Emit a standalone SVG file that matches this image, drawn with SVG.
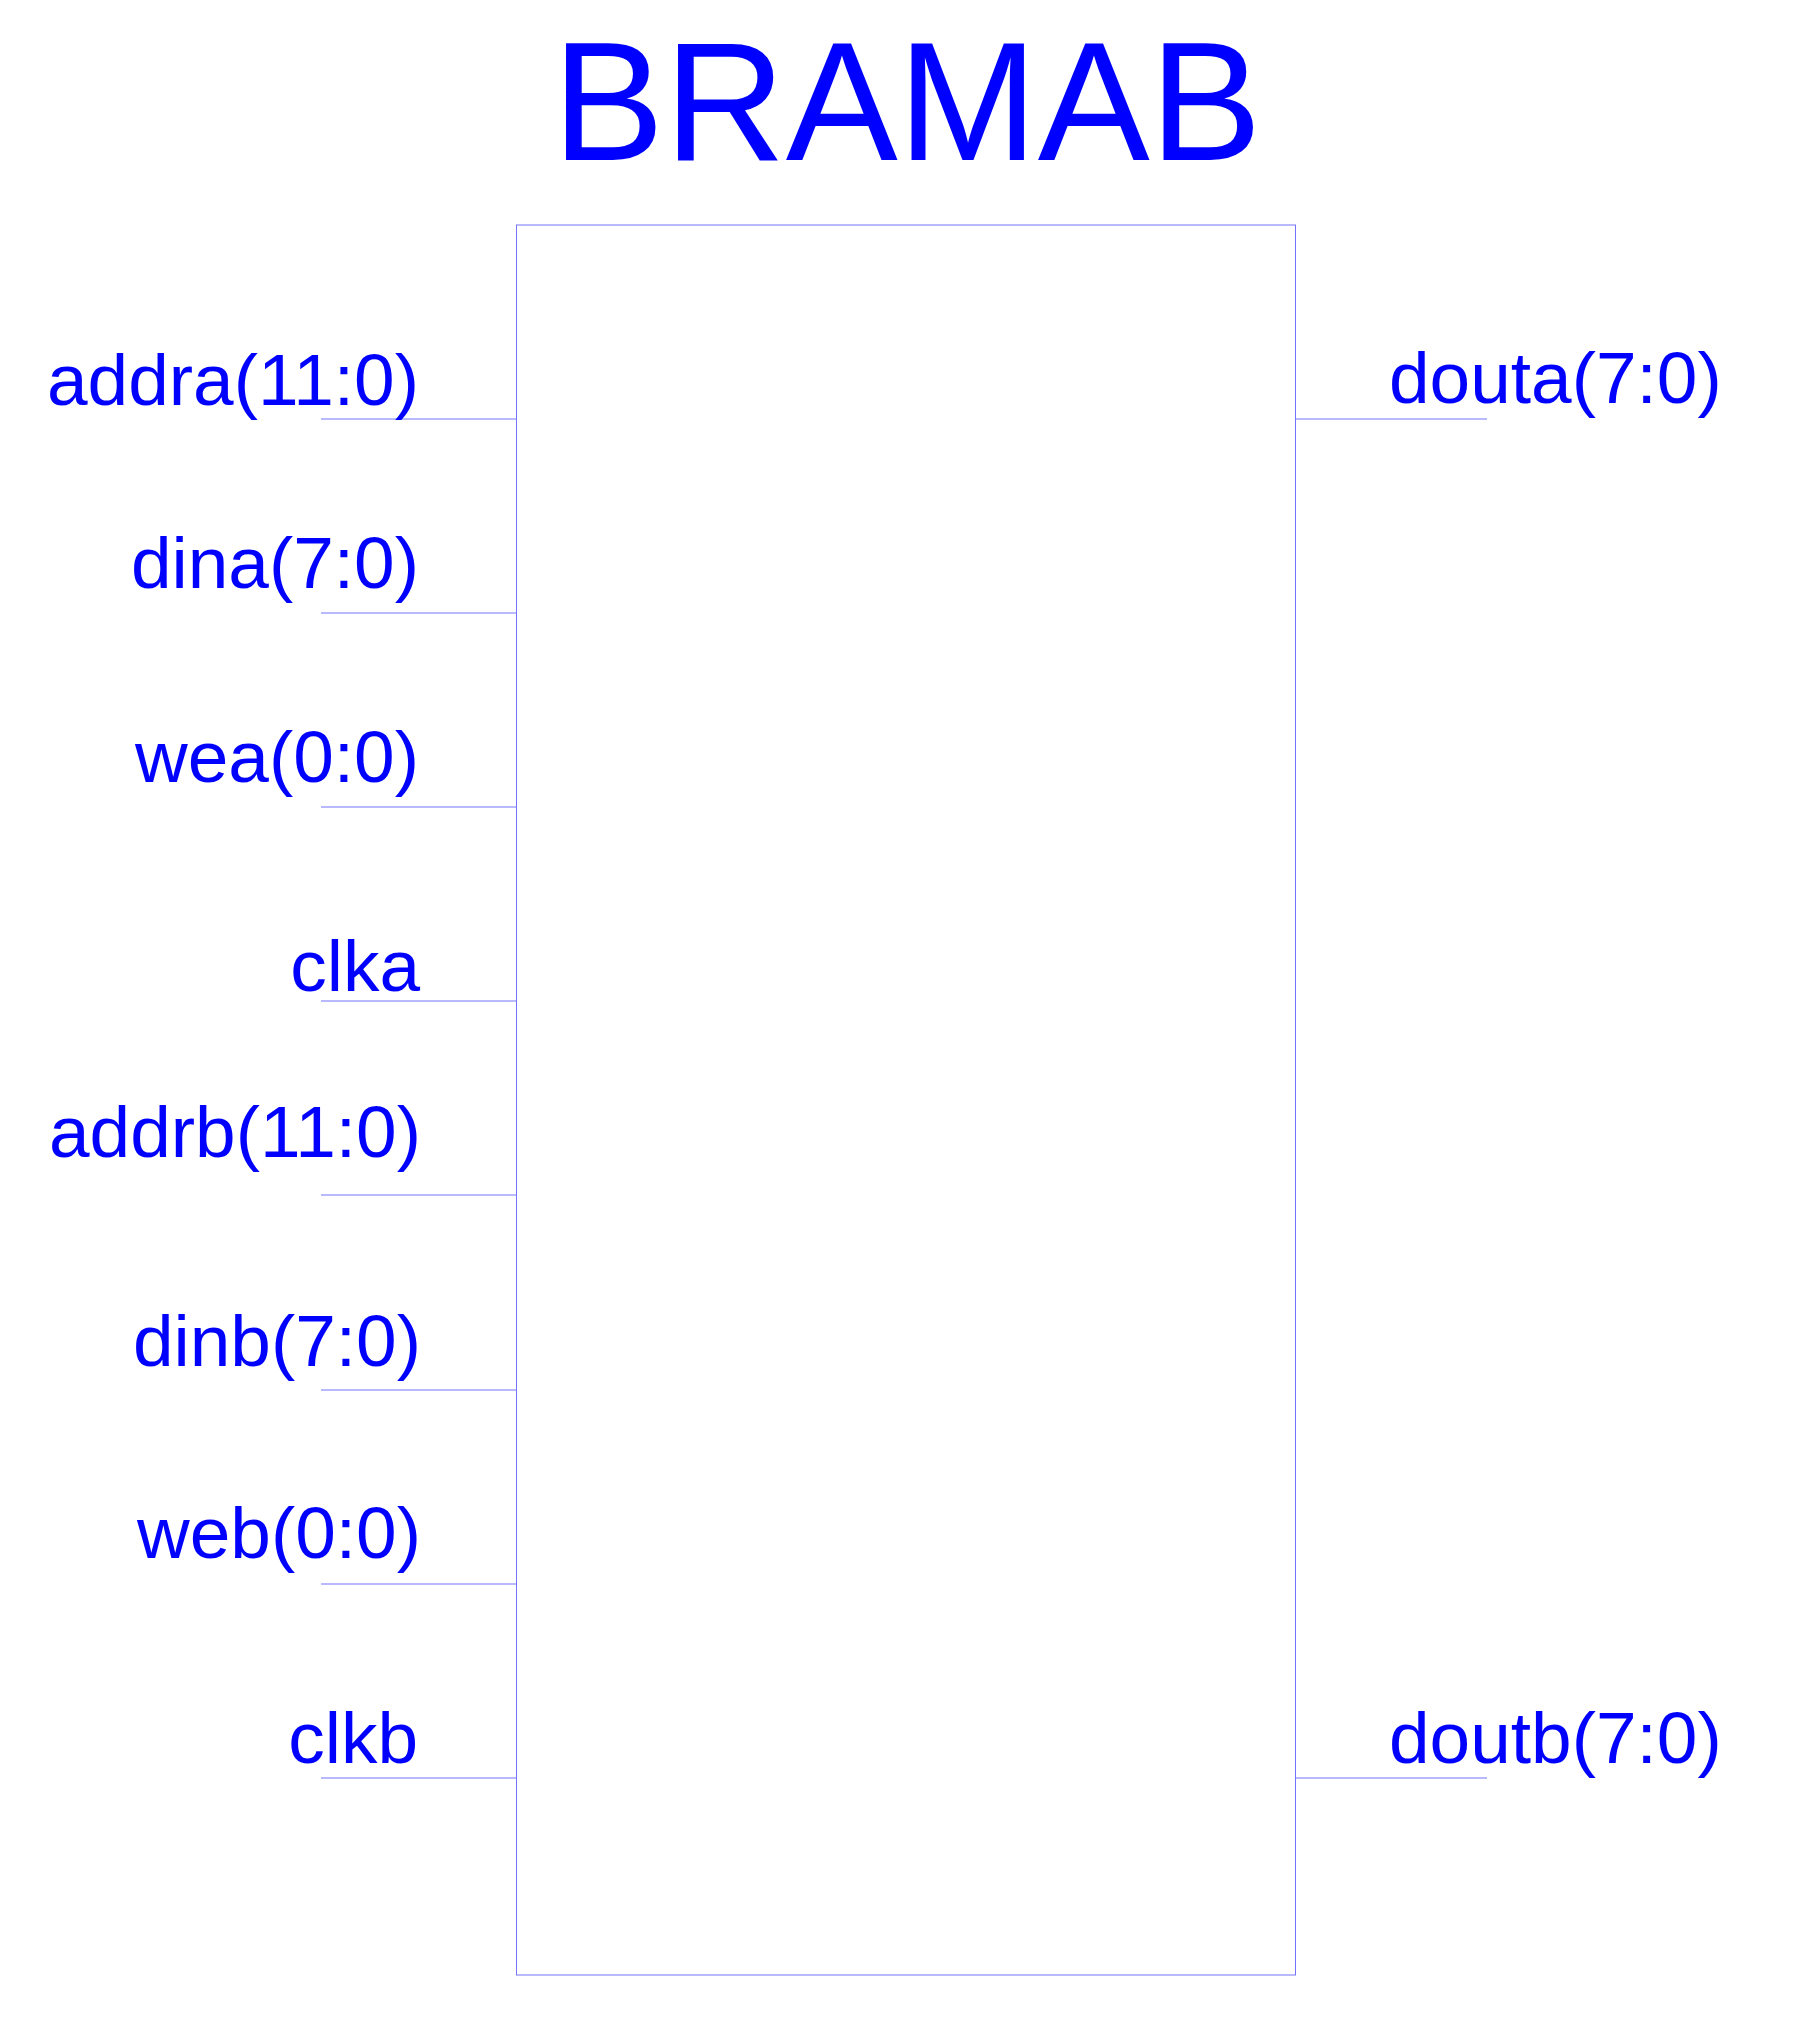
<svg xmlns="http://www.w3.org/2000/svg" width="1800" height="2037" viewBox="0 0 1800 2037">
<style>
.lbl{font-family:"Liberation Sans",Arial,Helvetica,sans-serif;font-size:73px;fill:#0000ff}
.ttl{font-family:"Liberation Sans",Arial,Helvetica,sans-serif;font-size:168px;fill:#0000ff}
.pin{stroke:#0000ff;stroke-width:1;stroke-opacity:0.55;fill:none}
.box{stroke:#0000ff;stroke-width:1;stroke-opacity:0.55;fill:#ffffff}
</style>
<rect width="1800" height="2037" fill="#ffffff"/>
<g id="title"><text class="ttl" x="907" y="160" text-anchor="middle">BRAMAB</text></g>
<g id="block"><rect class="box" x="516.5" y="225" width="779" height="1750"/></g>
<g id="connectors">
<line class="pin" x1="321" y1="419" x2="516" y2="419"/>
<line class="pin" x1="321" y1="613" x2="516" y2="613"/>
<line class="pin" x1="321" y1="807" x2="516" y2="807"/>
<line class="pin" x1="321" y1="1001" x2="516" y2="1001"/>
<line class="pin" x1="321" y1="1195" x2="516" y2="1195"/>
<line class="pin" x1="321" y1="1390" x2="516" y2="1390"/>
<line class="pin" x1="321" y1="1584" x2="516" y2="1584"/>
<line class="pin" x1="321" y1="1778" x2="516" y2="1778"/>
<line class="pin" x1="1296" y1="419" x2="1487" y2="419"/>
<line class="pin" x1="1296" y1="1778" x2="1487" y2="1778"/>
</g>
<g id="pin-addra"><text class="lbl" x="419" y="405" text-anchor="end">addra(11:0)</text></g>
<g id="pin-dina"><text class="lbl" x="419" y="588" text-anchor="end">dina(7:0)</text></g>
<g id="pin-wea"><text class="lbl" x="419" y="782" text-anchor="end">wea(0:0)</text></g>
<g id="pin-clka"><text class="lbl" x="420" y="991" text-anchor="end">clka</text></g>
<g id="pin-addrb"><text class="lbl" x="421" y="1157" text-anchor="end">addrb(11:0)</text></g>
<g id="pin-dinb"><text class="lbl" x="421" y="1366" text-anchor="end">dinb(7:0)</text></g>
<g id="pin-web"><text class="lbl" x="421" y="1558" text-anchor="end">web(0:0)</text></g>
<g id="pin-clkb"><text class="lbl" x="418" y="1763" text-anchor="end">clkb</text></g>
<g id="pin-douta"><text class="lbl" x="1389" y="403">douta(7:0)</text></g>
<g id="pin-doutb"><text class="lbl" x="1389" y="1763">doutb(7:0)</text></g>
</svg>
